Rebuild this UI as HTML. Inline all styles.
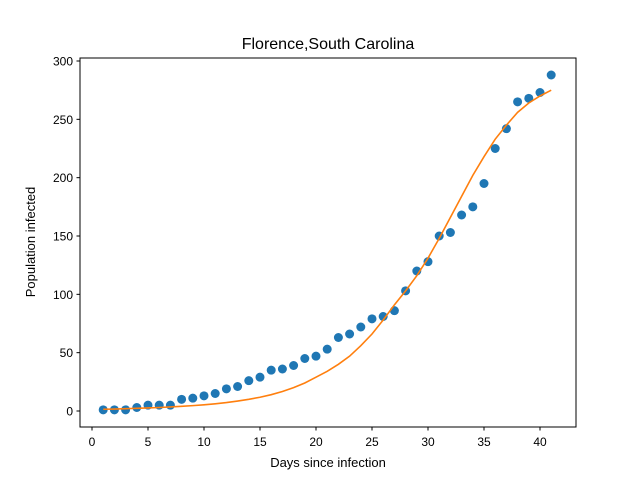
<!DOCTYPE html>
<html><head><meta charset="utf-8"><style>body{margin:0;background:#fff}svg{display:block;font-family:"Liberation Sans","DejaVu Sans",sans-serif}</style></head>
<body>
<svg id="c" width="640" height="480">
<rect width="640" height="480" fill="#fff"/>
<text x="328" y="49" font-size="16" text-anchor="middle">Florence,South Carolina</text>
<g id="xt"></g><g id="yt"></g>
<g id="marks"></g>
<rect x="80" y="58" width="496" height="369" fill="none" stroke="#000" stroke-width="1"/>
<text x="328" y="467" font-size="13" text-anchor="middle">Days since infection</text>
<text transform="translate(35,242) rotate(-90)" font-size="13" text-anchor="middle">Population infected</text>
</svg>
<script>
const days=[1,2,3,4,5,6,7,8,9,10,11,12,13,14,15,16,17,18,19,20,21,22,23,24,25,26,27,28,29,30,31,32,33,34,35,36,37,38,39,40,41];
const observed=[1,1,1,3,5,5,5,10,11,13,15,19,21,26,29,35,36,39,45,47,53,63,66,72,79,81,86,103,120,128,150,153,168,175,195,225,242,265,268,273,288];
const fitted=[1.5,1.7,2,2.3,2.6,3,3.5,4,4.6,5.3,6.2,7.2,8.5,10,11.8,14,16.7,20,24,29,34,40,47,56,66,78,91,103,116,131,148,166,184,202,218,233,245,256,264,270,275];
const xTicks=[0,5,10,15,20,25,30,35,40];
const yTicks=[0,50,100,150,200,250,300];
const NS='http://www.w3.org/2000/svg';
const X=v=>92+v*11.2, Y=v=>411-v*(350/300);
function mk(t,a,p){const e=document.createElementNS(NS,t);for(const k in a)e.setAttribute(k,a[k]);p.appendChild(e);return e;}
const xt=document.getElementById('xt'),yt=document.getElementById('yt'),m=document.getElementById('marks');
xTicks.forEach(v=>{const g=mk('g',{},xt);


mk('line',{x1:X(v),x2:X(v),y1:427,y2:430.5,stroke:'#000'},g);
const t=mk('text',{x:X(v),y:446,'font-size':12,'text-anchor':'middle'},g);t.textContent=v;});
yTicks.forEach(v=>{const g=mk('g',{},yt);


mk('line',{x1:76.5,x2:80,y1:Y(v),y2:Y(v),stroke:'#000'},g);
const t=mk('text',{x:73,y:Y(v)+4.5,'font-size':12,'text-anchor':'end'},g);t.textContent=v;});
days.forEach((d,i)=>{const c=mk('circle',{cx:X(d),cy:Y(observed[i]),r:4.5,fill:'#1f77b4'},m);

});
const p=mk('polyline',{points:days.map((d,i)=>X(d)+','+Y(fitted[i])).join(' '),fill:'none',stroke:'#ff7f0e','stroke-width':1.6},m);


</script>
</body></html>
